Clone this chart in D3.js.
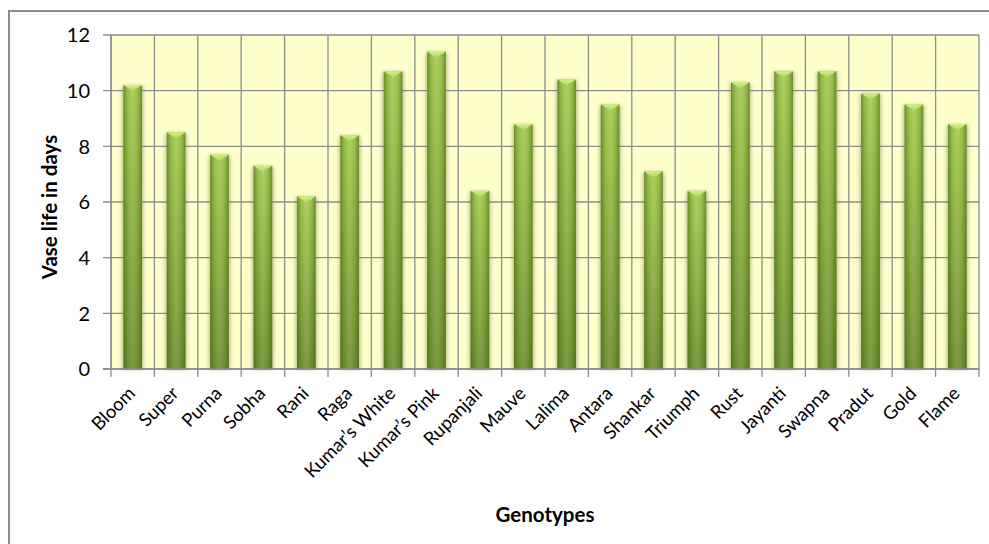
<!DOCTYPE html>
<html><head><meta charset="utf-8">
<script src="https://cdn.jsdelivr.net/npm/d3@7"></script>
<style>html,body{margin:0;padding:0;background:#fff;}svg{display:block;}</style>
</head><body>
<svg id="chart" width="989" height="544"></svg>
<script>
const categories = ["Bloom","Super","Purna","Sobha","Rani","Raga","Kumar’s White","Kumar’s Pink","Rupanjali","Mauve","Lalima","Antara","Shankar","Triumph","Rust","Jayanti","Swapna","Pradut","Gold","Flame"];
const vaseLife = [10.2,8.5,7.7,7.3,6.2,8.4,10.7,11.4,6.4,8.8,10.4,9.5,7.1,6.4,10.3,10.7,10.7,9.9,9.5,8.8];
const yTicks = [0,2,4,6,8,10,12];
const yTitle = "Vase life in days";
const xTitle = "Genotypes";

const W = 989, H = 544;
const plot = {left:111, right:979, top:35, bottom:369};
const svg = d3.select("#chart");
const font = "Lato, 'Liberation Sans', sans-serif";

const x = d3.scaleBand().domain(categories).range([plot.left, plot.right]).padding(0);
const y = d3.scaleLinear().domain([0,12]).range([plot.bottom, plot.top]);

const defs = svg.append("defs");
const gV = defs.append("linearGradient").attr("id","barV").attr("x1",0).attr("y1",0).attr("x2",0).attr("y2",1);
gV.append("stop").attr("offset","0%").attr("stop-color","#a3cd52");
gV.append("stop").attr("offset","100%").attr("stop-color","#6f9331");
const gH = defs.append("linearGradient").attr("id","barH").attr("x1",0).attr("y1",0).attr("x2",1).attr("y2",0);
gH.append("stop").attr("offset","0%").attr("stop-color","#3f5a12").attr("stop-opacity",0.55);
gH.append("stop").attr("offset","22%").attr("stop-color","#3f5a12").attr("stop-opacity",0.12);
gH.append("stop").attr("offset","50%").attr("stop-color","#ffffff").attr("stop-opacity",0.08);
gH.append("stop").attr("offset","78%").attr("stop-color","#3f5a12").attr("stop-opacity",0.12);
gH.append("stop").attr("offset","100%").attr("stop-color","#3f5a12").attr("stop-opacity",0.55);
const gB = defs.append("linearGradient").attr("id","bevel").attr("x1",0).attr("y1",0).attr("x2",0).attr("y2",1);
gB.append("stop").attr("offset","0%").attr("stop-color","#d4f08a");
gB.append("stop").attr("offset","100%").attr("stop-color","#b0d75a");
const f = defs.append("filter").attr("id","shadow").attr("x","-50%").attr("y","-10%").attr("width","200%").attr("height","120%");
f.append("feGaussianBlur").attr("stdDeviation",2.2);

// outer border
svg.append("path").attr("d",`M9,${H} L9,11 L${W},11`).attr("fill","none").attr("stroke","#8c8c8c").attr("stroke-width",2);

// plot background
svg.append("rect").attr("x",plot.left).attr("y",plot.top).attr("width",plot.right-plot.left).attr("height",plot.bottom-plot.top).attr("fill","#ffffcc");

const grid = svg.append("g").attr("stroke","#8d8d8d").attr("stroke-width",1.3);
grid.selectAll(".hg").data(yTicks).join("line")
  .attr("x1",plot.left-8).attr("x2",plot.right)
  .attr("y1",d=>y(d)).attr("y2",d=>y(d));
const bounds = categories.map(c=>x(c)).concat([x(categories[categories.length-1])+x.bandwidth()]);
grid.selectAll(".vg").data(bounds).join("line")
  .attr("x1",d=>d).attr("x2",d=>d)
  .attr("y1",plot.top).attr("y2",plot.bottom+8);

// bars
const bw = x.bandwidth()*0.43;
const bars = svg.append("g").selectAll("g").data(categories.map((c,i)=>({c,v:vaseLife[i]}))).join("g");
bars.append("rect").attr("x",d=>x(d.c)+x.bandwidth()/2-bw/2-1).attr("width",bw+2)
  .attr("y",d=>y(d.v)+1).attr("height",d=>y(0)-y(d.v)-1)
  .attr("fill","#6b7a4a").attr("opacity",0.55).attr("filter","url(#shadow)");
bars.append("rect").attr("x",d=>x(d.c)+x.bandwidth()/2-bw/2).attr("width",bw)
  .attr("y",d=>y(d.v)).attr("height",d=>y(0)-y(d.v)).attr("fill","url(#barV)");
bars.append("rect").attr("x",d=>x(d.c)+x.bandwidth()/2-bw/2).attr("width",bw)
  .attr("y",d=>y(d.v)).attr("height",d=>y(0)-y(d.v)).attr("fill","url(#barH)");
bars.append("polygon").attr("points",d=>{
  const cx = x(d.c)+x.bandwidth()/2, t = y(d.v);
  return `${cx-bw/2},${t} ${cx+bw/2},${t} ${cx},${t+6}`;
}).attr("fill","url(#bevel)");

// axis lines
svg.append("line").attr("x1",plot.left).attr("x2",plot.left).attr("y1",plot.top).attr("y2",plot.bottom).attr("stroke","#8d8d8d").attr("stroke-width",1.3);
svg.append("line").attr("x1",plot.left-8).attr("x2",plot.right).attr("y1",plot.bottom).attr("y2",plot.bottom).attr("stroke","#8d8d8d").attr("stroke-width",1.3);

// y tick labels
svg.append("g").selectAll("text").data(yTicks).join("text")
  .attr("x",plot.left-21).attr("y",d=>y(d)).attr("dy","0.36em")
  .attr("text-anchor","end").attr("font-family",font).attr("font-size",20).attr("fill","#000")
  .text(d=>d);

// x tick labels
svg.append("g").selectAll("text").data(categories).join("text")
  .attr("transform",d=>`translate(${x(d)+x.bandwidth()/2-1},${plot.bottom+21}) rotate(-45)`)
  .attr("text-anchor","end").attr("dy","0.35em")
  .attr("font-family",font).attr("font-size",18.5).attr("fill","#000")
  .text(d=>d);

// axis titles
svg.append("text").attr("transform",`translate(57,${(plot.top+plot.bottom)/2+5}) rotate(-90)`)
  .attr("text-anchor","middle").attr("font-family",font).attr("font-weight","bold").attr("font-size",20.5)
  .text(yTitle);
svg.append("text").attr("x",(plot.left+plot.right)/2).attr("y",522)
  .attr("text-anchor","middle").attr("font-family",font).attr("font-weight","bold").attr("font-size",20.5)
  .text(xTitle);
</script>
</body></html>
